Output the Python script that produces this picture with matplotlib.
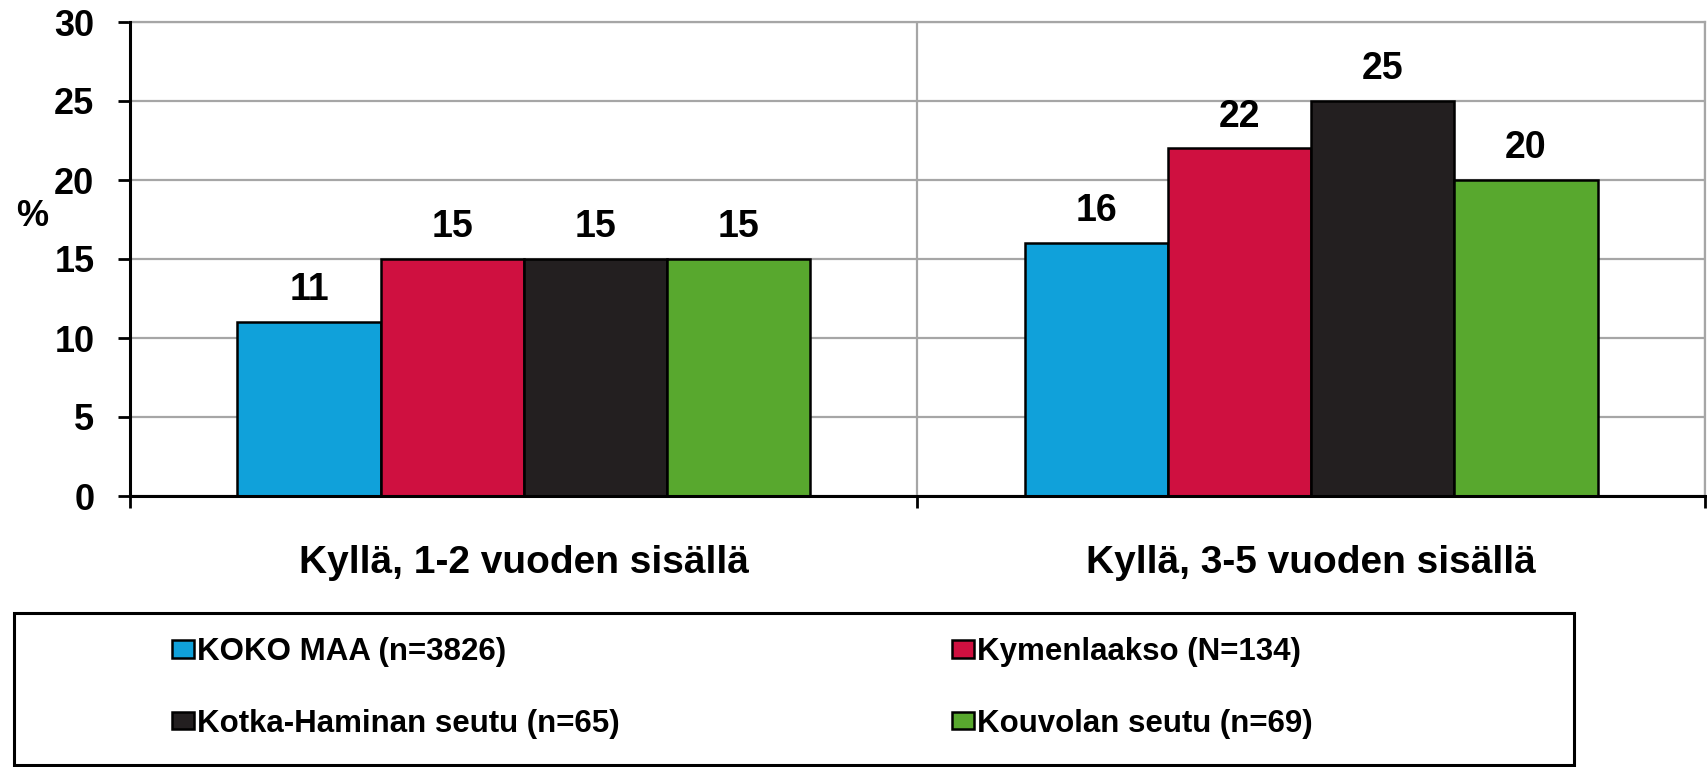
import numpy as np
import matplotlib.pyplot as plt
from matplotlib.patches import Rectangle

plt.rcParams['font.family'] = ['Liberation Sans', 'DejaVu Sans']
plt.rcParams['font.weight'] = 'bold'

categories = ['Kyllä, 1-2 vuoden sisällä', 'Kyllä, 3-5 vuoden sisällä']
series = ['KOKO MAA (n=3826)', 'Kymenlaakso (N=134)',
          'Kotka-Haminan seutu (n=65)', 'Kouvolan seutu (n=69)']
values = [
    [11, 16],
    [15, 22],
    [15, 25],
    [15, 20],
]
colors = ['#10a1da', '#cf1040', '#231f20', '#58a82e']

fig = plt.figure(figsize=(17.08, 7.67), dpi=100)
ax = fig.add_axes([130 / 1708, 1 - 496 / 767, 1575 / 1708, 474 / 767])

x = np.arange(len(categories))
w = 0.1818
bars = []
for i, (name, vals) in enumerate(zip(series, values)):
    b = ax.bar(x + (i - 1.5) * w, vals, w, color=colors[i], edgecolor='black',
               linewidth=1.8, label=name, zorder=3)
    ax.bar_label(b, padding=10, fontsize=27, fontweight='bold')
    bars.append(b)

ax.set_xlim(-0.5, 1.5)
ax.set_ylim(0, 30)
ax.set_yticks(np.arange(0, 31, 5))
ax.tick_params(axis='y', length=8.6, width=2, pad=17, labelsize=26,
               direction='out', color='black')
ax.set_xticks([-0.5, 0.5, 1.5])
ax.set_xticklabels([])
ax.set_xticks(x, minor=True)
ax.set_xticklabels(categories, minor=True, fontsize=28, fontweight='bold')
ax.tick_params(axis='x', which='major', length=8.6, width=2, direction='out')
ax.tick_params(axis='x', which='minor', length=0, pad=35)

ax.grid(True, axis='both', which='major', color='#a6a6a6', linewidth=1.6, zorder=0)
ax.set_axisbelow(True)
for s in ['top', 'right']:
    ax.spines[s].set_color('#a6a6a6')
    ax.spines[s].set_linewidth(1.6)
for s in ['left', 'bottom']:
    ax.spines[s].set_color('black')
    ax.spines[s].set_linewidth(2.2)
    ax.spines[s].set_zorder(4)

ax.set_ylabel('%', rotation=0, fontsize=26, fontweight='bold', va='center', ha='center')
ax.yaxis.set_label_coords(-0.062, 0.59)

# legend frame
fig.patches.append(Rectangle((14 / 1708, 2 / 767), 1560 / 1708, 152 / 767,
                             transform=fig.transFigure, fill=False,
                             edgecolor='black', linewidth=2.2))

leg_kw = dict(loc='upper left', frameon=False, borderpad=0, borderaxespad=0,
              prop={'family': 'Liberation Sans', 'weight': 'bold', 'size': 22.5},
              handlelength=0.7, handleheight=0.48, handletextpad=0.1,
              labelspacing=1.34)
fig.legend([bars[0], bars[2]], [series[0], series[2]],
           bbox_to_anchor=(172 / 1708, 1 - 637 / 767), **leg_kw)
fig.legend([bars[1], bars[3]], [series[1], series[3]],
           bbox_to_anchor=(952 / 1708, 1 - 637 / 767), **leg_kw)

fig.savefig('out.png', dpi=100)
